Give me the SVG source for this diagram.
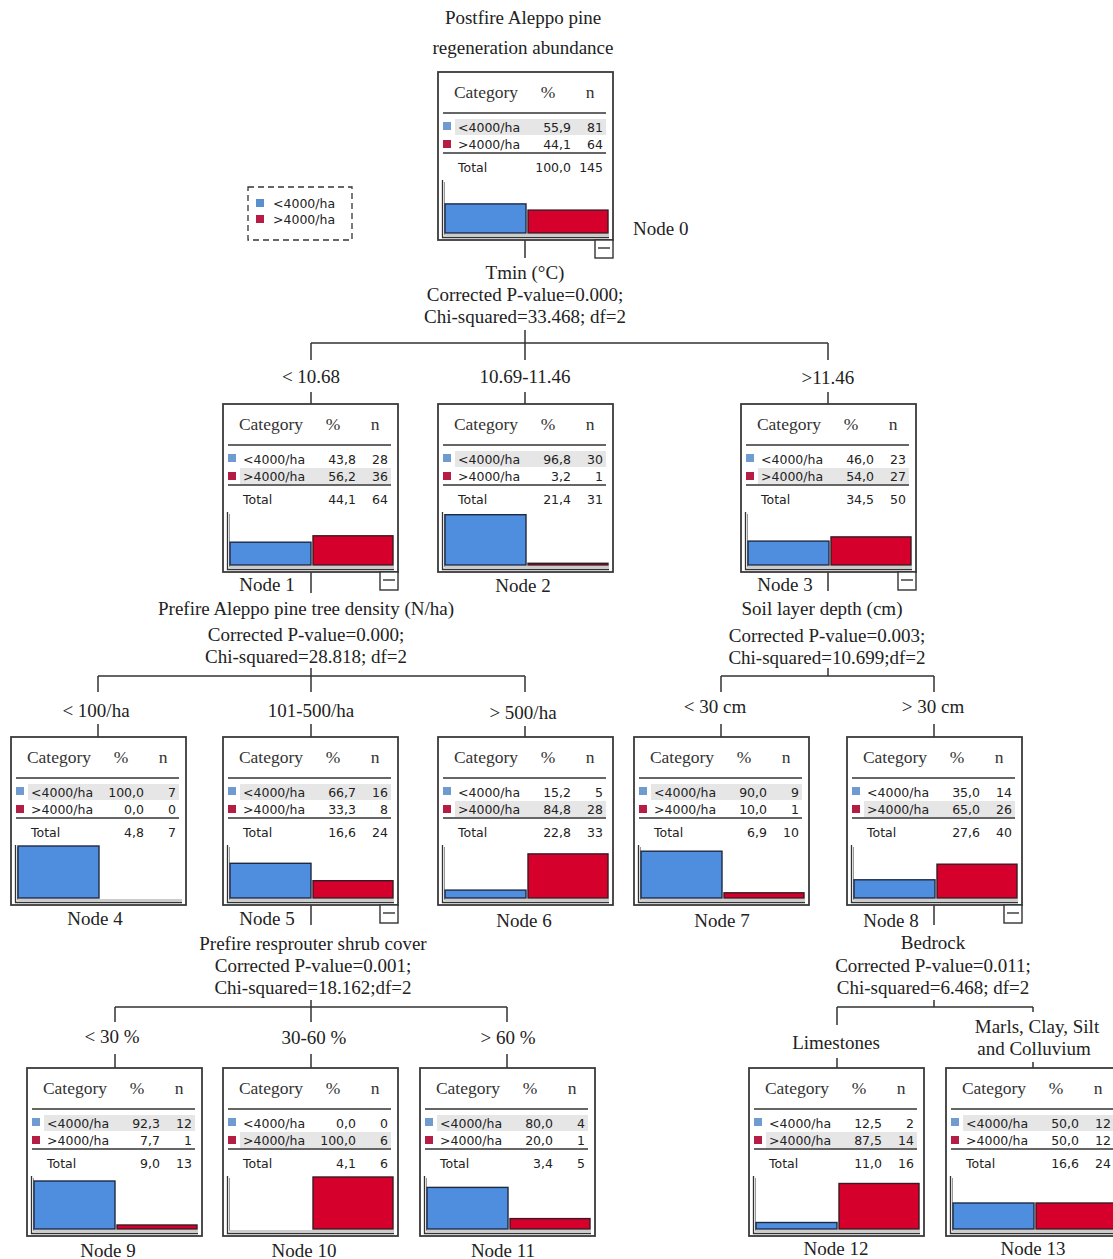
<svg xmlns="http://www.w3.org/2000/svg" width="1113" height="1259" viewBox="0 0 1113 1259">
<style>
.lbl{font-family:"Liberation Serif","Times New Roman",serif;font-size:19px;fill:#222;text-anchor:middle}
.nl{font-family:"Liberation Serif","Times New Roman",serif;font-size:19px;fill:#222;text-anchor:middle}
.hdr{font-family:"Liberation Serif","Times New Roman",serif;font-size:17.5px;fill:#333;text-anchor:middle}
.cell{font-family:"DejaVu Sans",sans-serif;font-size:12.5px;fill:#222}
.num{font-family:"DejaVu Sans",sans-serif;font-size:12.5px;fill:#222;text-anchor:end}
.box{fill:#fff;stroke:#3a3a3a;stroke-width:1.8}
.sep{stroke:#333;stroke-width:1.5}
.hl{fill:#e6e6e6}
.sqb{fill:#6f9bd0}
.sqr{fill:#b51d45}
.fr{fill:none;stroke:#333;stroke-width:1.3}
.fr2{fill:none;stroke:#999;stroke-width:1}
.bb{fill:#4f8ede;stroke:#1e2a44;stroke-width:1.4}
.br{fill:#d6002c;stroke:#3a1a22;stroke-width:1.4}
.mb{fill:#fff;stroke:#333;stroke-width:1.4}
.ml{stroke:#333;stroke-width:1.4}
.con{fill:none;stroke:#333;stroke-width:1.5}
</style>

<text class="lbl" x="523" y="24">Postfire Aleppo pine</text>
<text class="lbl" x="523" y="54">regeneration abundance</text>

<g id="legend">
<rect x="248" y="187" width="104" height="53" fill="none" stroke="#333" stroke-width="1.3" stroke-dasharray="6,4"/>
<rect x="256" y="199" width="8" height="8" fill="#5a8fcf"/>
<text class="cell" x="273" y="208">&lt;4000/ha</text>
<rect x="256" y="215" width="8" height="8" fill="#b81c44"/>
<text class="cell" x="273" y="224">&gt;4000/ha</text>
</g>

<g id="connectors">
<path class="con" d="M525 240V258M525 330V343M311 343H828M311 343V360M311 392V404M525 343V360M525 392V404M828 343V360M828 392V404"/>
<path class="con" d="M311 572V593M311 668V676M98 676H525M98 676V692M98 724V737M311 676V692M311 724V737M525 676V692M525 726V737"/>
<path class="con" d="M828 572V591M828 668V676M721 676H934M721 676V692M721 724V737M934 676V692M934 724V737"/>
<path class="con" d="M311 905V925M311 1000V1007M115 1007H507M115 1007V1022M115 1054V1068M311 1007V1022M311 1054V1068M507 1007V1022M507 1054V1068"/>
<path class="con" d="M934 905V925M934 1000V1007M837 1007H1033M837 1007V1025M837 1058V1068M1033 1007V1012M1033 1062V1068"/>
</g>

<g id="split-labels">
<text class="lbl" x="525" y="279">Tmin (°C)</text>
<text class="lbl" x="525" y="301">Corrected P-value=0.000;</text>
<text class="lbl" x="525" y="323">Chi-squared=33.468; df=2</text>
<text class="lbl" x="311" y="383">&lt; 10.68</text>
<text class="lbl" x="525" y="383">10.69-11.46</text>
<text class="lbl" x="828" y="384">&gt;11.46</text>
<text class="lbl" x="306" y="615">Prefire  Aleppo pine tree density (N/ha)</text>
<text class="lbl" x="306" y="641">Corrected P-value=0.000;</text>
<text class="lbl" x="306" y="663">Chi-squared=28.818; df=2</text>
<text class="lbl" x="96" y="717">&lt; 100/ha</text>
<text class="lbl" x="311" y="717">101-500/ha</text>
<text class="lbl" x="523" y="719">&gt; 500/ha</text>
<text class="lbl" x="822" y="615">Soil layer depth (cm)</text>
<text class="lbl" x="827" y="642">Corrected P-value=0.003;</text>
<text class="lbl" x="827" y="664">Chi-squared=10.699;df=2</text>
<text class="lbl" x="715" y="713">&lt; 30 cm</text>
<text class="lbl" x="933" y="713">&gt; 30 cm</text>
<text class="lbl" x="313" y="950">Prefire resprouter shrub cover</text>
<text class="lbl" x="313" y="972">Corrected P-value=0.001;</text>
<text class="lbl" x="313" y="994">Chi-squared=18.162;df=2</text>
<text class="lbl" x="112" y="1043">&lt; 30 %</text>
<text class="lbl" x="314" y="1044">30-60 %</text>
<text class="lbl" x="508" y="1044">&gt; 60 %</text>
<text class="lbl" x="933" y="949">Bedrock</text>
<text class="lbl" x="933" y="972">Corrected P-value=0.011;</text>
<text class="lbl" x="933" y="994">Chi-squared=6.468; df=2</text>
<text class="lbl" x="836" y="1049">Limestones</text>
<text class="lbl" x="1037" y="1033">Marls, Clay, Silt</text>
<text class="lbl" x="1034" y="1055">and Colluvium</text>
</g>

<g id="node0" transform="translate(438,72)">
<rect class="box" width="175" height="168"/>
<text class="hdr" x="48" y="26">Category</text><text class="hdr" x="110" y="26">%</text><text class="hdr" x="152" y="26">n</text>
<line class="sep" x1="5" y1="41" x2="168" y2="41"/>
<rect class="hl" x="17" y="47" width="151" height="16"/>
<rect class="sqb" x="5" y="50" width="8" height="8"/><text class="cell" x="20" y="60">&lt;4000/ha</text><text class="num" x="133" y="60">55,9</text><text class="num" x="165" y="60">81</text>
<rect class="sqr" x="5" y="68" width="8" height="8"/><text class="cell" x="20" y="77">&gt;4000/ha</text><text class="num" x="133" y="77">44,1</text><text class="num" x="165" y="77">64</text>
<line class="sep" x1="5" y1="81" x2="168" y2="81"/>
<text class="cell" x="20" y="100">Total</text><text class="num" x="133" y="100">100,0</text><text class="num" x="165" y="100">145</text>
<path class="fr2" d="M6.5 110V163H171"/><path class="fr" d="M4.5 108V165.5H171"/>
<rect class="bb" x="7" y="131.9" width="81" height="29.1"/><rect class="br" x="90" y="138.1" width="80" height="22.9"/>
<rect class="mb" x="157" y="168" width="18" height="18"/><line class="ml" x1="160" y1="176" x2="172" y2="176"/>
<text class="nl" x="195" y="163" style="text-anchor:start">Node 0</text>
</g>

<g id="node1" transform="translate(223,404)">
<rect class="box" width="175" height="168"/>
<text class="hdr" x="48" y="26">Category</text><text class="hdr" x="110" y="26">%</text><text class="hdr" x="152" y="26">n</text>
<line class="sep" x1="5" y1="41" x2="168" y2="41"/>
<rect class="hl" x="17" y="64" width="151" height="16"/>
<rect class="sqb" x="5" y="50" width="8" height="8"/><text class="cell" x="20" y="60">&lt;4000/ha</text><text class="num" x="133" y="60">43,8</text><text class="num" x="165" y="60">28</text>
<rect class="sqr" x="5" y="68" width="8" height="8"/><text class="cell" x="20" y="77">&gt;4000/ha</text><text class="num" x="133" y="77">56,2</text><text class="num" x="165" y="77">36</text>
<line class="sep" x1="5" y1="81" x2="168" y2="81"/>
<text class="cell" x="20" y="100">Total</text><text class="num" x="133" y="100">44,1</text><text class="num" x="165" y="100">64</text>
<path class="fr2" d="M6.5 110V163H171"/><path class="fr" d="M4.5 108V165.5H171"/>
<rect class="bb" x="7" y="138.2" width="81" height="22.8"/><rect class="br" x="90" y="131.8" width="80" height="29.2"/>
<rect class="mb" x="157" y="168" width="18" height="18"/><line class="ml" x1="160" y1="176" x2="172" y2="176"/>
<text class="nl" x="44" y="187">Node 1</text>
</g>

<g id="node2" transform="translate(438,404)">
<rect class="box" width="175" height="168"/>
<text class="hdr" x="48" y="26">Category</text><text class="hdr" x="110" y="26">%</text><text class="hdr" x="152" y="26">n</text>
<line class="sep" x1="5" y1="41" x2="168" y2="41"/>
<rect class="hl" x="17" y="47" width="151" height="16"/>
<rect class="sqb" x="5" y="50" width="8" height="8"/><text class="cell" x="20" y="60">&lt;4000/ha</text><text class="num" x="133" y="60">96,8</text><text class="num" x="165" y="60">30</text>
<rect class="sqr" x="5" y="68" width="8" height="8"/><text class="cell" x="20" y="77">&gt;4000/ha</text><text class="num" x="133" y="77">3,2</text><text class="num" x="165" y="77">1</text>
<line class="sep" x1="5" y1="81" x2="168" y2="81"/>
<text class="cell" x="20" y="100">Total</text><text class="num" x="133" y="100">21,4</text><text class="num" x="165" y="100">31</text>
<path class="fr2" d="M6.5 110V163H171"/><path class="fr" d="M4.5 108V165.5H171"/>
<rect class="bb" x="7" y="110.7" width="81" height="50.3"/><rect class="br" x="90" y="159.3" width="80" height="1.7"/>
<text class="nl" x="85" y="188">Node 2</text>
</g>

<g id="node3" transform="translate(741,404)">
<rect class="box" width="175" height="168"/>
<text class="hdr" x="48" y="26">Category</text><text class="hdr" x="110" y="26">%</text><text class="hdr" x="152" y="26">n</text>
<line class="sep" x1="5" y1="41" x2="168" y2="41"/>
<rect class="hl" x="17" y="64" width="151" height="16"/>
<rect class="sqb" x="5" y="50" width="8" height="8"/><text class="cell" x="20" y="60">&lt;4000/ha</text><text class="num" x="133" y="60">46,0</text><text class="num" x="165" y="60">23</text>
<rect class="sqr" x="5" y="68" width="8" height="8"/><text class="cell" x="20" y="77">&gt;4000/ha</text><text class="num" x="133" y="77">54,0</text><text class="num" x="165" y="77">27</text>
<line class="sep" x1="5" y1="81" x2="168" y2="81"/>
<text class="cell" x="20" y="100">Total</text><text class="num" x="133" y="100">34,5</text><text class="num" x="165" y="100">50</text>
<path class="fr2" d="M6.5 110V163H171"/><path class="fr" d="M4.5 108V165.5H171"/>
<rect class="bb" x="7" y="137.1" width="81" height="23.9"/><rect class="br" x="90" y="132.9" width="80" height="28.1"/>
<rect class="mb" x="157" y="168" width="18" height="18"/><line class="ml" x1="160" y1="176" x2="172" y2="176"/>
<text class="nl" x="44" y="187">Node 3</text>
</g>

<g id="node4" transform="translate(11,737)">
<rect class="box" width="175" height="168"/>
<text class="hdr" x="48" y="26">Category</text><text class="hdr" x="110" y="26">%</text><text class="hdr" x="152" y="26">n</text>
<line class="sep" x1="5" y1="41" x2="168" y2="41"/>
<rect class="hl" x="17" y="47" width="151" height="16"/>
<rect class="sqb" x="5" y="50" width="8" height="8"/><text class="cell" x="20" y="60">&lt;4000/ha</text><text class="num" x="133" y="60">100,0</text><text class="num" x="165" y="60">7</text>
<rect class="sqr" x="5" y="68" width="8" height="8"/><text class="cell" x="20" y="77">&gt;4000/ha</text><text class="num" x="133" y="77">0,0</text><text class="num" x="165" y="77">0</text>
<line class="sep" x1="5" y1="81" x2="168" y2="81"/>
<text class="cell" x="20" y="100">Total</text><text class="num" x="133" y="100">4,8</text><text class="num" x="165" y="100">7</text>
<path class="fr2" d="M6.5 110V163H171"/><path class="fr" d="M4.5 108V165.5H171"/>
<rect class="bb" x="7" y="109" width="81" height="52"/>
<text class="nl" x="84" y="188">Node 4</text>
</g>

<g id="node5" transform="translate(223,737)">
<rect class="box" width="175" height="168"/>
<text class="hdr" x="48" y="26">Category</text><text class="hdr" x="110" y="26">%</text><text class="hdr" x="152" y="26">n</text>
<line class="sep" x1="5" y1="41" x2="168" y2="41"/>
<rect class="hl" x="17" y="47" width="151" height="16"/>
<rect class="sqb" x="5" y="50" width="8" height="8"/><text class="cell" x="20" y="60">&lt;4000/ha</text><text class="num" x="133" y="60">66,7</text><text class="num" x="165" y="60">16</text>
<rect class="sqr" x="5" y="68" width="8" height="8"/><text class="cell" x="20" y="77">&gt;4000/ha</text><text class="num" x="133" y="77">33,3</text><text class="num" x="165" y="77">8</text>
<line class="sep" x1="5" y1="81" x2="168" y2="81"/>
<text class="cell" x="20" y="100">Total</text><text class="num" x="133" y="100">16,6</text><text class="num" x="165" y="100">24</text>
<path class="fr2" d="M6.5 110V163H171"/><path class="fr" d="M4.5 108V165.5H171"/>
<rect class="bb" x="7" y="126.3" width="81" height="34.7"/><rect class="br" x="90" y="143.7" width="80" height="17.3"/>
<rect class="mb" x="157" y="168" width="18" height="18"/><line class="ml" x1="160" y1="176" x2="172" y2="176"/>
<text class="nl" x="44" y="188">Node 5</text>
</g>

<g id="node6" transform="translate(438,737)">
<rect class="box" width="175" height="168"/>
<text class="hdr" x="48" y="26">Category</text><text class="hdr" x="110" y="26">%</text><text class="hdr" x="152" y="26">n</text>
<line class="sep" x1="5" y1="41" x2="168" y2="41"/>
<rect class="hl" x="17" y="64" width="151" height="16"/>
<rect class="sqb" x="5" y="50" width="8" height="8"/><text class="cell" x="20" y="60">&lt;4000/ha</text><text class="num" x="133" y="60">15,2</text><text class="num" x="165" y="60">5</text>
<rect class="sqr" x="5" y="68" width="8" height="8"/><text class="cell" x="20" y="77">&gt;4000/ha</text><text class="num" x="133" y="77">84,8</text><text class="num" x="165" y="77">28</text>
<line class="sep" x1="5" y1="81" x2="168" y2="81"/>
<text class="cell" x="20" y="100">Total</text><text class="num" x="133" y="100">22,8</text><text class="num" x="165" y="100">33</text>
<path class="fr2" d="M6.5 110V163H171"/><path class="fr" d="M4.5 108V165.5H171"/>
<rect class="bb" x="7" y="153.1" width="81" height="7.9"/><rect class="br" x="90" y="116.9" width="80" height="44.1"/>
<text class="nl" x="86" y="190">Node 6</text>
</g>

<g id="node7" transform="translate(634,737)">
<rect class="box" width="175" height="168"/>
<text class="hdr" x="48" y="26">Category</text><text class="hdr" x="110" y="26">%</text><text class="hdr" x="152" y="26">n</text>
<line class="sep" x1="5" y1="41" x2="168" y2="41"/>
<rect class="hl" x="17" y="47" width="151" height="16"/>
<rect class="sqb" x="5" y="50" width="8" height="8"/><text class="cell" x="20" y="60">&lt;4000/ha</text><text class="num" x="133" y="60">90,0</text><text class="num" x="165" y="60">9</text>
<rect class="sqr" x="5" y="68" width="8" height="8"/><text class="cell" x="20" y="77">&gt;4000/ha</text><text class="num" x="133" y="77">10,0</text><text class="num" x="165" y="77">1</text>
<line class="sep" x1="5" y1="81" x2="168" y2="81"/>
<text class="cell" x="20" y="100">Total</text><text class="num" x="133" y="100">6,9</text><text class="num" x="165" y="100">10</text>
<path class="fr2" d="M6.5 110V163H171"/><path class="fr" d="M4.5 108V165.5H171"/>
<rect class="bb" x="7" y="114.2" width="81" height="46.8"/><rect class="br" x="90" y="155.8" width="80" height="5.2"/>
<text class="nl" x="88" y="190">Node 7</text>
</g>

<g id="node8" transform="translate(847,737)">
<rect class="box" width="175" height="168"/>
<text class="hdr" x="48" y="26">Category</text><text class="hdr" x="110" y="26">%</text><text class="hdr" x="152" y="26">n</text>
<line class="sep" x1="5" y1="41" x2="168" y2="41"/>
<rect class="hl" x="17" y="64" width="151" height="16"/>
<rect class="sqb" x="5" y="50" width="8" height="8"/><text class="cell" x="20" y="60">&lt;4000/ha</text><text class="num" x="133" y="60">35,0</text><text class="num" x="165" y="60">14</text>
<rect class="sqr" x="5" y="68" width="8" height="8"/><text class="cell" x="20" y="77">&gt;4000/ha</text><text class="num" x="133" y="77">65,0</text><text class="num" x="165" y="77">26</text>
<line class="sep" x1="5" y1="81" x2="168" y2="81"/>
<text class="cell" x="20" y="100">Total</text><text class="num" x="133" y="100">27,6</text><text class="num" x="165" y="100">40</text>
<path class="fr2" d="M6.5 110V163H171"/><path class="fr" d="M4.5 108V165.5H171"/>
<rect class="bb" x="7" y="142.8" width="81" height="18.2"/><rect class="br" x="90" y="127.2" width="80" height="33.8"/>
<rect class="mb" x="157" y="168" width="18" height="18"/><line class="ml" x1="160" y1="176" x2="172" y2="176"/>
<text class="nl" x="44" y="190">Node 8</text>
</g>

<g id="node9" transform="translate(27,1068)">
<rect class="box" width="175" height="168"/>
<text class="hdr" x="48" y="26">Category</text><text class="hdr" x="110" y="26">%</text><text class="hdr" x="152" y="26">n</text>
<line class="sep" x1="5" y1="41" x2="168" y2="41"/>
<rect class="hl" x="17" y="47" width="151" height="16"/>
<rect class="sqb" x="5" y="50" width="8" height="8"/><text class="cell" x="20" y="60">&lt;4000/ha</text><text class="num" x="133" y="60">92,3</text><text class="num" x="165" y="60">12</text>
<rect class="sqr" x="5" y="68" width="8" height="8"/><text class="cell" x="20" y="77">&gt;4000/ha</text><text class="num" x="133" y="77">7,7</text><text class="num" x="165" y="77">1</text>
<line class="sep" x1="5" y1="81" x2="168" y2="81"/>
<text class="cell" x="20" y="100">Total</text><text class="num" x="133" y="100">9,0</text><text class="num" x="165" y="100">13</text>
<path class="fr2" d="M6.5 110V163H171"/><path class="fr" d="M4.5 108V165.5H171"/>
<rect class="bb" x="7" y="113" width="81" height="48"/><rect class="br" x="90" y="157" width="80" height="4"/>
<text class="nl" x="81" y="189">Node 9</text>
</g>

<g id="node10" transform="translate(223,1068)">
<rect class="box" width="175" height="168"/>
<text class="hdr" x="48" y="26">Category</text><text class="hdr" x="110" y="26">%</text><text class="hdr" x="152" y="26">n</text>
<line class="sep" x1="5" y1="41" x2="168" y2="41"/>
<rect class="hl" x="17" y="64" width="151" height="16"/>
<rect class="sqb" x="5" y="50" width="8" height="8"/><text class="cell" x="20" y="60">&lt;4000/ha</text><text class="num" x="133" y="60">0,0</text><text class="num" x="165" y="60">0</text>
<rect class="sqr" x="5" y="68" width="8" height="8"/><text class="cell" x="20" y="77">&gt;4000/ha</text><text class="num" x="133" y="77">100,0</text><text class="num" x="165" y="77">6</text>
<line class="sep" x1="5" y1="81" x2="168" y2="81"/>
<text class="cell" x="20" y="100">Total</text><text class="num" x="133" y="100">4,1</text><text class="num" x="165" y="100">6</text>
<path class="fr2" d="M6.5 110V163H171"/><path class="fr" d="M4.5 108V165.5H171"/>
<rect class="br" x="90" y="109" width="80" height="52"/>
<text class="nl" x="81" y="189">Node 10</text>
</g>

<g id="node11" transform="translate(420,1068)">
<rect class="box" width="175" height="168"/>
<text class="hdr" x="48" y="26">Category</text><text class="hdr" x="110" y="26">%</text><text class="hdr" x="152" y="26">n</text>
<line class="sep" x1="5" y1="41" x2="168" y2="41"/>
<rect class="hl" x="17" y="47" width="151" height="16"/>
<rect class="sqb" x="5" y="50" width="8" height="8"/><text class="cell" x="20" y="60">&lt;4000/ha</text><text class="num" x="133" y="60">80,0</text><text class="num" x="165" y="60">4</text>
<rect class="sqr" x="5" y="68" width="8" height="8"/><text class="cell" x="20" y="77">&gt;4000/ha</text><text class="num" x="133" y="77">20,0</text><text class="num" x="165" y="77">1</text>
<line class="sep" x1="5" y1="81" x2="168" y2="81"/>
<text class="cell" x="20" y="100">Total</text><text class="num" x="133" y="100">3,4</text><text class="num" x="165" y="100">5</text>
<path class="fr2" d="M6.5 110V163H171"/><path class="fr" d="M4.5 108V165.5H171"/>
<rect class="bb" x="7" y="119.4" width="81" height="41.6"/><rect class="br" x="90" y="150.6" width="80" height="10.4"/>
<text class="nl" x="83" y="189">Node 11</text>
</g>

<g id="node12" transform="translate(749,1068)">
<rect class="box" width="175" height="168"/>
<text class="hdr" x="48" y="26">Category</text><text class="hdr" x="110" y="26">%</text><text class="hdr" x="152" y="26">n</text>
<line class="sep" x1="5" y1="41" x2="168" y2="41"/>
<rect class="hl" x="17" y="64" width="151" height="16"/>
<rect class="sqb" x="5" y="50" width="8" height="8"/><text class="cell" x="20" y="60">&lt;4000/ha</text><text class="num" x="133" y="60">12,5</text><text class="num" x="165" y="60">2</text>
<rect class="sqr" x="5" y="68" width="8" height="8"/><text class="cell" x="20" y="77">&gt;4000/ha</text><text class="num" x="133" y="77">87,5</text><text class="num" x="165" y="77">14</text>
<line class="sep" x1="5" y1="81" x2="168" y2="81"/>
<text class="cell" x="20" y="100">Total</text><text class="num" x="133" y="100">11,0</text><text class="num" x="165" y="100">16</text>
<path class="fr2" d="M6.5 110V163H171"/><path class="fr" d="M4.5 108V165.5H171"/>
<rect class="bb" x="7" y="154.5" width="81" height="6.5"/><rect class="br" x="90" y="115.5" width="80" height="45.5"/>
<text class="nl" x="87" y="187">Node 12</text>
</g>

<g id="node13" transform="translate(946,1068)">
<rect class="box" width="175" height="168"/>
<text class="hdr" x="48" y="26">Category</text><text class="hdr" x="110" y="26">%</text><text class="hdr" x="152" y="26">n</text>
<line class="sep" x1="5" y1="41" x2="168" y2="41"/>
<rect class="hl" x="17" y="47" width="151" height="16"/>
<rect class="sqb" x="5" y="50" width="8" height="8"/><text class="cell" x="20" y="60">&lt;4000/ha</text><text class="num" x="133" y="60">50,0</text><text class="num" x="165" y="60">12</text>
<rect class="sqr" x="5" y="68" width="8" height="8"/><text class="cell" x="20" y="77">&gt;4000/ha</text><text class="num" x="133" y="77">50,0</text><text class="num" x="165" y="77">12</text>
<line class="sep" x1="5" y1="81" x2="168" y2="81"/>
<text class="cell" x="20" y="100">Total</text><text class="num" x="133" y="100">16,6</text><text class="num" x="165" y="100">24</text>
<path class="fr2" d="M6.5 110V163H171"/><path class="fr" d="M4.5 108V165.5H171"/>
<rect class="bb" x="7" y="135" width="81" height="26"/><rect class="br" x="90" y="135" width="80" height="26"/>
<text class="nl" x="87" y="187">Node 13</text>
</g>
</svg>
